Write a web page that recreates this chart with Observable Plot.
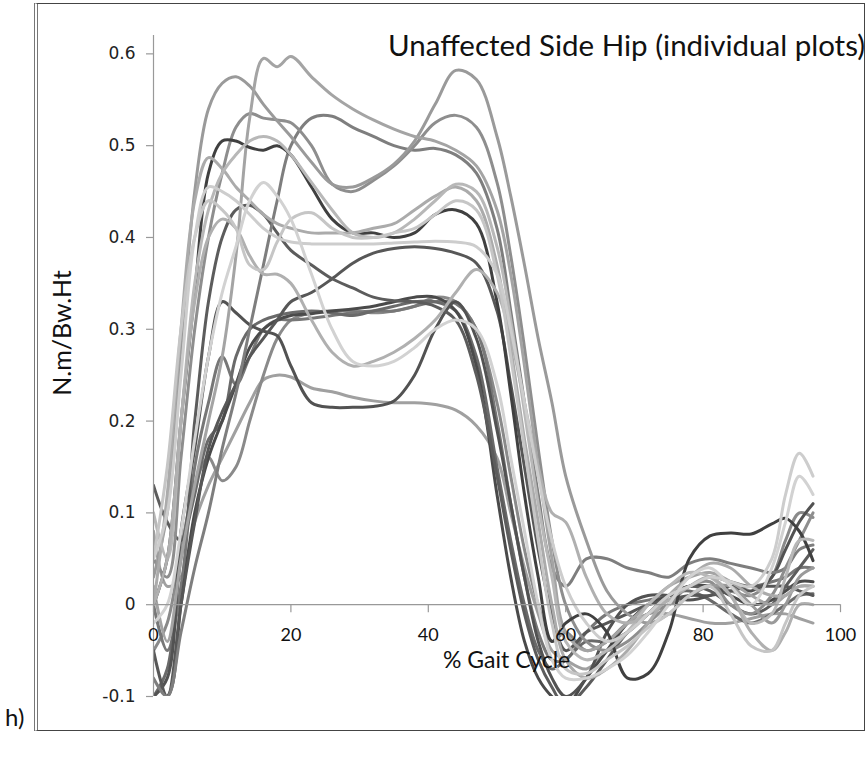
<!DOCTYPE html>
<html><head><meta charset="utf-8">
<script src="https://cdn.jsdelivr.net/npm/d3@7"></script>
<script src="https://cdn.jsdelivr.net/npm/@observablehq/plot@0.6"></script>
<style>
html,body{margin:0;padding:0;background:#fff;overflow:hidden;}
#wrap{position:relative;width:865px;height:765px;overflow:hidden;}
#wrap svg{position:absolute;left:0;top:0;}
.t{position:absolute;white-space:nowrap;font-family:Lato,"Open Sans",sans-serif;color:#111;}
#frame{position:absolute;left:34px;top:3px;width:826px;height:726px;border:1px solid #444;border-left:4px double #777;}
</style></head>
<body><div id="wrap"><div id="frame"></div></div>
<script>
const pct = [0,2,4,6,8,10,12,14,16,18,20,23,26,29,32,35,38,41,44,47,50,52,54,56,58,60,63,66,69,72,75,78,81,84,87,90,92,94,96];
const yTicks = [-0.1,0,0.1,0.2,0.3,0.4,0.5,0.6];
const yTickLabels = ["-0.1","0","0.1","0.2","0.3","0.4","0.5","0.6"];
const xTicks = [0,20,40,60,80,100];
const xTickLabels = ["0","20","40","60","80","100"];

const sA = [0.02,-0.04,0.05,0.13,0.2,0.27,0.38,0.53,0.595,0.586,0.597,0.575,0.555,0.54,0.528,0.518,0.51,0.505,0.495,0.478,0.43,0.36,0.26,0.15,0.05,-0.03,-0.05,-0.04,-0.02,0.0,0.02,0.03,0.035,0.025,0.01,0.0,0.01,0.02,0.02];
const sC = [0.03,0.1,0.28,0.45,0.54,0.568,0.575,0.565,0.545,0.527,0.51,0.482,0.458,0.455,0.465,0.48,0.505,0.545,0.582,0.572,0.51,0.445,0.37,0.29,0.22,0.14,0.07,0.015,-0.01,-0.02,-0.01,0.01,0.02,0.02,0.0,-0.02,0.0,0.03,0.04];
const sB = [-0.08,-0.1,-0.03,0.04,0.1,0.17,0.23,0.3,0.37,0.44,0.5,0.53,0.532,0.52,0.51,0.5,0.495,0.497,0.49,0.47,0.41,0.32,0.22,0.12,0.04,0.02,0.05,0.05,0.04,0.035,0.03,0.045,0.05,0.045,0.04,0.035,0.04,0.06,0.065];
const sE = [0.05,0.03,0.16,0.3,0.4,0.47,0.52,0.535,0.53,0.528,0.525,0.5,0.458,0.45,0.462,0.478,0.5,0.525,0.533,0.52,0.46,0.38,0.28,0.17,0.07,0.0,-0.04,-0.05,-0.04,-0.02,0.0,0.02,0.025,0.0,-0.01,0.01,0.04,0.07,0.1];
const sF = [0.0,0.05,0.2,0.34,0.47,0.505,0.505,0.498,0.495,0.5,0.49,0.455,0.42,0.405,0.405,0.4,0.405,0.425,0.43,0.415,0.33,0.23,0.12,0.03,-0.04,-0.02,-0.01,-0.03,-0.08,-0.075,-0.03,0.05,0.075,0.078,0.077,0.088,0.094,0.08,0.048];
const sG = [0.1,0.05,0.2,0.35,0.43,0.47,0.49,0.505,0.51,0.505,0.49,0.46,0.43,0.405,0.4,0.405,0.42,0.44,0.458,0.45,0.39,0.31,0.21,0.11,0.03,-0.04,-0.06,-0.05,-0.03,0.0,0.02,0.035,0.03,0.01,-0.02,-0.01,0.03,0.07,0.07];
const sH = [0.05,0.1,0.25,0.4,0.455,0.45,0.44,0.425,0.41,0.4,0.395,0.393,0.393,0.393,0.393,0.394,0.395,0.396,0.395,0.39,0.36,0.3,0.22,0.14,0.07,0.02,-0.02,-0.04,-0.03,-0.01,0.01,0.02,0.03,0.025,0.02,0.05,0.12,0.165,0.14];
const sI = [0.0,0.12,0.3,0.44,0.487,0.475,0.455,0.44,0.425,0.415,0.41,0.405,0.405,0.405,0.41,0.415,0.43,0.445,0.455,0.44,0.37,0.28,0.18,0.09,0.0,-0.06,-0.08,-0.07,-0.05,-0.02,0.01,0.03,0.045,0.04,0.02,0.01,0.01,0.02,0.02];
const sN1 = [-0.02,0.0,0.08,0.18,0.27,0.34,0.39,0.44,0.46,0.445,0.42,0.36,0.3,0.265,0.26,0.265,0.28,0.3,0.31,0.3,0.24,0.16,0.08,0.0,-0.06,-0.08,-0.08,-0.07,-0.055,-0.03,0.0,0.03,0.04,0.02,0.0,0.04,0.09,0.14,0.12];
const sP = [0.13,0.09,0.07,0.2,0.33,0.4,0.43,0.435,0.425,0.405,0.386,0.37,0.355,0.345,0.335,0.331,0.33,0.325,0.31,0.25,0.14,0.06,-0.01,-0.06,-0.09,-0.11,-0.09,-0.06,-0.03,-0.01,0.01,0.02,0.015,0.0,-0.01,0.0,0.02,0.04,0.06];
const sQ = [-0.05,-0.1,0.0,0.09,0.17,0.21,0.24,0.27,0.29,0.31,0.33,0.34,0.355,0.372,0.383,0.388,0.39,0.388,0.383,0.372,0.32,0.24,0.15,0.06,-0.01,-0.05,-0.03,-0.02,-0.01,0.0,0.005,0.01,0.01,0.015,0.02,0.02,0.02,0.015,0.01];
const sK = [-0.1,-0.08,0.08,0.17,0.27,0.33,0.318,0.305,0.298,0.293,0.26,0.22,0.215,0.215,0.216,0.222,0.25,0.3,0.33,0.29,0.19,0.11,0.03,-0.04,-0.08,-0.1,-0.08,-0.03,0.0,0.01,0.01,0.005,0.01,0.02,0.015,0.03,0.06,0.09,0.11];
const sL = [0.08,0.02,0.03,0.09,0.13,0.16,0.19,0.22,0.245,0.25,0.248,0.236,0.232,0.226,0.222,0.22,0.22,0.218,0.212,0.195,0.16,0.1,0.04,-0.01,-0.05,-0.06,-0.07,-0.05,-0.03,-0.01,-0.01,-0.015,-0.02,-0.02,-0.015,-0.01,-0.01,-0.015,-0.02];
const sM1 = [-0.1,-0.1,0.0,0.1,0.16,0.2,0.24,0.28,0.3,0.31,0.315,0.317,0.32,0.322,0.325,0.33,0.335,0.335,0.32,0.26,0.12,0.03,-0.04,-0.08,-0.1,-0.11,-0.08,-0.05,-0.02,0.0,0.01,0.02,0.02,0.01,0.0,0.005,0.015,0.025,0.025];
const sM2 = [-0.1,-0.07,0.05,0.12,0.18,0.2,0.27,0.3,0.31,0.315,0.318,0.32,0.318,0.315,0.32,0.325,0.33,0.33,0.32,0.27,0.15,0.07,0.0,-0.05,-0.07,-0.06,-0.04,-0.04,-0.03,-0.01,0.01,0.015,0.005,-0.01,-0.02,-0.01,0.0,0.01,0.012];
const sM3 = [0.0,-0.05,0.02,0.15,0.22,0.27,0.24,0.27,0.3,0.31,0.31,0.312,0.315,0.318,0.32,0.32,0.325,0.33,0.328,0.3,0.2,0.11,0.03,-0.03,-0.06,-0.06,-0.03,-0.01,0.0,0.005,0.01,0.02,0.03,0.025,0.02,0.025,0.03,0.04,0.04];
const sM4 = [-0.05,-0.02,0.06,0.13,0.16,0.135,0.15,0.2,0.25,0.29,0.31,0.318,0.32,0.32,0.318,0.32,0.325,0.335,0.33,0.3,0.22,0.14,0.06,0.0,-0.04,-0.03,-0.05,-0.04,-0.02,-0.01,0.0,0.01,0.02,0.015,0.01,0.03,0.07,0.1,0.095];
const sN2 = [0.0,0.05,0.2,0.33,0.4,0.42,0.41,0.38,0.36,0.36,0.35,0.31,0.275,0.26,0.265,0.275,0.29,0.31,0.34,0.365,0.34,0.29,0.22,0.15,0.1,0.09,0.03,-0.01,-0.02,-0.01,0.005,0.02,0.03,0.01,-0.03,-0.05,-0.03,0.0,0.0];
const sJ = [0.05,0.15,0.3,0.4,0.44,0.43,0.41,0.37,0.365,0.395,0.42,0.427,0.41,0.4,0.4,0.405,0.41,0.425,0.44,0.43,0.36,0.27,0.17,0.07,-0.02,-0.07,-0.075,-0.06,-0.045,-0.025,-0.01,0.01,0.02,-0.01,-0.045,-0.05,-0.02,0.01,0.02];

const seriesList = [
  ["L", sL, "#a0a0a0"], ["M4", sM4, "#8a8a8a"], ["M3", sM3, "#777777"], ["M2", sM2, "#6a6a6a"],
  ["M1", sM1, "#4a4a4a"], ["K", sK, "#525252"], ["Q", sQ, "#575757"], ["P", sP, "#5c5c5c"],
  ["B", sB, "#7e7e7e"], ["E", sE, "#8e8e8e"], ["C", sC, "#9a9a9a"], ["A", sA, "#a4a4a4"],
  ["F", sF, "#404040"], ["I", sI, "#ababab"], ["G", sG, "#b8b8b8"], ["N2", sN2, "#b0b0b0"],
  ["J", sJ, "#c6c6c6"], ["H", sH, "#cdcdcd"], ["N1", sN1, "#d2d2d2"]
];

const rows = [];
for (const [id, vals, col] of seriesList) {
  vals.forEach((v, i) => rows.push({id, x: pct[i], y: v, col}));
}

const plot = Plot.plot({
  width: 865, height: 765,
  marginLeft: 153, marginRight: 25, marginTop: 35, marginBottom: 69,
  x: {type: "linear", domain: [0, 100], axis: null},
  y: {type: "linear", domain: [-0.1, 0.62], axis: null},
  color: {type: "identity"},
  style: {background: "transparent"},
  marks: [
    Plot.line(rows, {x: "x", y: "y", z: "id", stroke: "col", strokeWidth: 3, curve: "catmull-rom", clip: true}),
    Plot.ruleX([0], {y1: -0.1, y2: 0.62, stroke: "#999", strokeWidth: 1.2}),
    Plot.ruleY([0], {x1: 0, x2: 100, stroke: "#999", strokeWidth: 1.2}),
    Plot.ruleX(xTicks, {x: d => d, y1: 0, y2: -0.0087, stroke: "#999", strokeWidth: 1.2}),
    Plot.ruleY(yTicks, {y: d => d, x1: -1.02, x2: 0, stroke: "#999", strokeWidth: 1.2}),
    Plot.text(xTicks, {x: d => d, y: 0, dy: 31, text: (d, i) => xTickLabels[i], fontSize: 18, fontFamily: "Lato, sans-serif", fill: "#111"}),
    Plot.text(yTicks, {x: 0, y: d => d, dx: -18, text: (d, i) => yTickLabels[i], textAnchor: "end", fontSize: 17, fontFamily: "DejaVu Sans, sans-serif", fill: "#222"})
  ]
});
document.getElementById("wrap").appendChild(plot);

const wrap = document.getElementById("wrap");
function addText(txt, css) {
  const d = document.createElement("div");
  d.className = "t"; d.textContent = txt; Object.assign(d.style, css);
  wrap.appendChild(d);
}
addText("Unaffected Side Hip (individual plots)", {left: "388px", top: "27px", fontSize: "29.5px"});
addText("% Gait Cycle", {left: "443px", top: "645px", fontSize: "23px"});
addText("N.m/Bw.Ht", {left: "61px", top: "333px", fontSize: "25px", transform: "translate(-50%,-50%) rotate(-90deg)"});
addText("h)", {left: "5px", top: "702px", fontSize: "24px"});
</script>
</body></html>
